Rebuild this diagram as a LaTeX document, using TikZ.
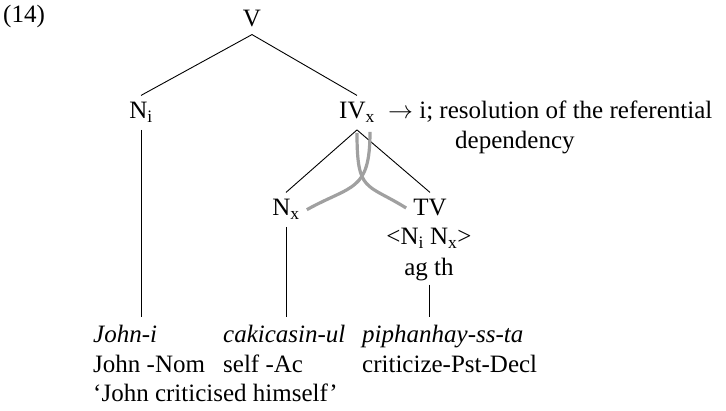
\documentclass[tikz,border=0pt]{standalone}
\usepackage{fontspec}
\setmainfont{Liberation Serif}
\usetikzlibrary{math,calc}
\definecolor{linkgray}{RGB}{160,160,160}

\begin{document}
\begin{tikzpicture}[x=1pt,y=-1pt,
 every node/.style={font=\fontsize{25}{30}\selectfont},
 cat/.style={anchor=base, inner sep=7pt},
 word/.style={anchor=base west, inner xsep=0pt, inner ysep=8pt},
 branch/.style={line width=0.9},
 link/.style={line width=3.2, color=linkgray}]
\tikzmath{
\rA=27;
\rB=119;
\rC=216;
\rW=343;
\lsk=29.5;
\cA=93;
\cB=223;
\cC=362;
}
\useasboundingbox (0,0) rectangle (726,411);

\node[word, inner sep=0pt] (ex) at (3,23) {(14)};

% tree
\node[cat] (V) at (252,\rA) {V};
\node[cat] (Ni) at (141,\rB) {N\textsubscript{i}};
\node[cat] (IV) at (357,\rB) {IV\textsubscript{x}};
\node[word] (note) at (388,\rB) {$\rightarrow$ i; resolution of the referential};
\node[word] (note2) at (455,\rB+\lsk) {dependency};
\node[cat] (Nx) at (286,\rC) {N\textsubscript{x}};
\node[cat] (TV) at (430,\rC) {TV};
\node[cat] (feat) at (429,245) {<N\textsubscript{i} N\textsubscript{x}>};
\node[cat, inner sep=3pt] (roles) at (429,276) {ag th};

% words
\node[word] (johni) at (\cA,\rW) {\itshape John-i};
\node[word] (johnnom) at (\cA,\rW+\lsk) {John -Nom};
\node[word] (gloss) at (\cA,\rW+2*\lsk) {‘John criticised himself’};
\node[word] (caki) at (\cB,\rW) {\itshape cakicasin-ul};
\node[word] (selfac) at (\cB,\rW+\lsk) {self -Ac};
\node[word] (piph) at (\cC,\rW) {\itshape piphanhay-ss-ta};
\node[word] (crit) at (\cC,\rW+\lsk) {criticize-Pst-Decl};

\draw[branch] (V.south) -- (Ni.north);
\draw[branch] (V.south) -- (IV.north);
\draw[branch] (IV.south) -- (Nx.north);
\draw[branch] (IV.south) -- (TV.north);
\draw[branch] (Ni.south) -- (Ni.south |- johni.north);
\draw[branch] (Nx.south) -- (Nx.south |- caki.north);
\draw[branch] (roles.south) -- (roles.south |- piph.north);

% binding links
\coordinate (la) at ($(IV.south)+(13,2)$);
\coordinate (lb) at ($(IV.south)+(0,3)$);
\draw[link] (la) .. controls +(0,60) and +(45,-25) .. (Nx.east);
\draw[link] (lb) .. controls +(0,60) and +(-40,-25) .. (TV.west);
\end{tikzpicture}
\end{document}
